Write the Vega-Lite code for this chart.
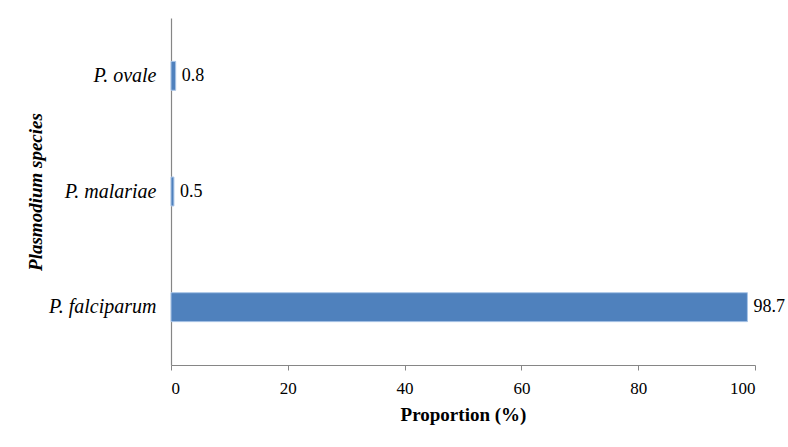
{
  "$schema": "https://vega.github.io/schema/vega-lite/v6.json",
  "width": 584,
  "height": 347,
  "autosize": {"type": "none"},
  "padding": {"left": 171, "top": 18, "right": 33, "bottom": 82},
  "background": "white",
  "config": {
    "view": {"stroke": null},
    "font": "Liberation Serif",
    "axis": {"labelFont": "Liberation Serif", "titleFont": "Liberation Serif"},
    "text": {"font": "Liberation Serif"}
  },
  "data": {
    "values": [
      {"species": "P. ovale", "proportion": 0.8},
      {"species": "P. malariae", "proportion": 0.5},
      {"species": "P. falciparum", "proportion": 98.7}
    ]
  },
  "encoding": {
    "y": {
      "field": "species",
      "type": "nominal",
      "sort": ["P. ovale", "P. malariae", "P. falciparum"],
      "scale": {"paddingInner": 0.75, "paddingOuter": 0.375},
      "axis": {
        "title": "Plasmodium species",
        "titleFontSize": 19,
        "titleFontWeight": "bold",
        "titleFontStyle": "italic",
        "titleColor": "black",
        "titlePadding": 3,
        "labelFontSize": 20,
        "labelFontStyle": "italic",
        "labelColor": "black",
        "labelPadding": 15,
        "ticks": false,
        "domainColor": "#868686",
        "domainWidth": 1.2
      }
    },
    "x": {
      "field": "proportion",
      "type": "quantitative",
      "scale": {"domain": [0, 100]},
      "axis": {
        "title": "Proportion (%)",
        "titleFontSize": 19,
        "titleFontWeight": "bold",
        "titleColor": "black",
        "titlePadding": 9,
        "labelFontSize": 17,
        "labelColor": "black",
        "labelPadding": 10,
        "values": [0, 20, 40, 60, 80, 100],
        "grid": false,
        "tickColor": "#868686",
        "tickSize": 5,
        "domainColor": "#868686",
        "domainWidth": 1.2
      }
    }
  },
  "layer": [
    {
      "mark": {"type": "bar", "color": "#4F81BD", "stroke": "#A9C4E6", "strokeWidth": 1}
    },
    {
      "mark": {"type": "text", "align": "left", "dx": 6, "fontSize": 18, "color": "black"},
      "encoding": {"text": {"field": "proportion", "type": "quantitative", "format": ".1f"}}
    }
  ]
}
